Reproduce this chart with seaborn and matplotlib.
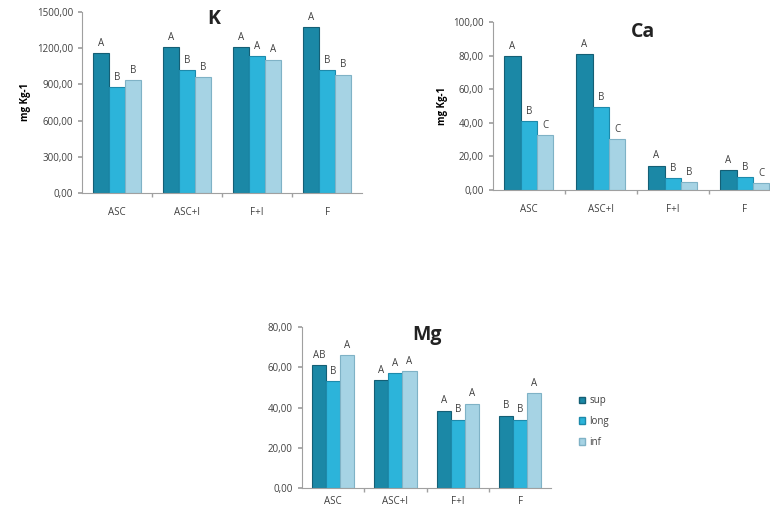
import pandas as pd
import matplotlib.pyplot as plt
import seaborn as sns

sns.set_theme(style="white")
plt.rcParams['font.family'] = ['Open Sans', 'DejaVu Sans']

treatments = ['ASC', 'ASC+I', 'F+I', 'F']
positions = ['sup', 'long', 'inf']

# K values (mg Kg-1), per position
k_sup = [1160, 1210, 1210, 1375]
k_long = [880, 1015, 1130, 1020]
k_inf = [935, 960, 1105, 980]
k_letters = [['A', 'A', 'A', 'A'], ['B', 'B', 'A', 'B'], ['B', 'B', 'A', 'B']]

# Ca values
ca_sup = [79.5, 81.0, 14.5, 12.0]
ca_long = [41.0, 49.5, 7.0, 7.5]
ca_inf = [32.5, 30.5, 4.5, 4.0]
ca_letters = [['A', 'A', 'A', 'A'], ['B', 'B', 'B', 'B'], ['C', 'C', 'B', 'C']]

# Mg values
mg_sup = [61.0, 53.5, 38.5, 36.0]
mg_long = [53.0, 57.0, 34.0, 34.0]
mg_inf = [66.0, 58.0, 42.0, 47.0]
mg_letters = [['AB', 'A', 'A', 'B'], ['B', 'A', 'B', 'B'], ['A', 'A', 'A', 'A']]

colors = ['#1b88a6', '#2cb4da', '#a6d3e4']
edges = ['#145f75', '#1d8aab', '#7fb2c6']
txt = '#404040'


def make_df(sup, long, inf):
    rows = []
    for pos, vals in zip(positions, [sup, long, inf]):
        for t, v in zip(treatments, vals):
            rows.append({'trat': t, 'pos': pos, 'val': v})
    return pd.DataFrame(rows)


def draw(ax, df, letters, ymax, step, title, title_xy, ylabel=True, xpad=10):
    sns.barplot(data=df, x='trat', y='val', hue='pos', order=treatments,
                hue_order=positions, palette=colors, width=0.68,
                saturation=1, ax=ax, legend=False)
    for i, cont in enumerate(ax.containers):
        for bar in cont:
            bar.set_edgecolor(edges[i])
            bar.set_linewidth(0.8)
        ax.bar_label(cont, labels=letters[i], padding=3, fontsize=7, color=txt)
    ax.set_ylim(0, ymax)
    ticks = [step * j for j in range(int(ymax / step) + 1)]
    ax.set_yticks(ticks)
    ax.set_yticklabels([f'{t:.2f}'.replace('.', ',') for t in ticks],
                       fontsize=7, color=txt)
    ax.set_xlim(-0.5, 3.5)
    ax.set_xticks([0, 1, 2, 3])
    ax.set_xticklabels(treatments, fontsize=7, color=txt)
    ax.set_xticks([0.5, 1.5, 2.5], minor=True)
    ax.tick_params(axis='x', which='major', length=0, pad=xpad)
    ax.tick_params(axis='x', which='minor', length=3, color='#a0a0a0',
                   direction='out', bottom=True)
    ax.tick_params(axis='y', length=3, color='#a0a0a0', direction='out', left=True)
    ax.set_xlabel('')
    if ylabel:
        ax.set_ylabel('mg Kg-1', fontsize=7, fontweight='bold', color='black')
    else:
        ax.set_ylabel('')
    for s in ['top', 'right']:
        ax.spines[s].set_visible(False)
    for s in ['left', 'bottom']:
        ax.spines[s].set_color('#a0a0a0')
        ax.spines[s].set_linewidth(0.8)
    ax.text(title_xy[0], title_xy[1], title, transform=ax.transAxes,
            fontsize=14, fontweight='bold', color='#222222', ha='center', va='center')


fig = plt.figure(figsize=(7.7, 5.12), dpi=100)

ax_k = fig.add_axes([0.1065, 0.623, 0.364, 0.354])
draw(ax_k, make_df(k_sup, k_long, k_inf), k_letters, 1500, 300, 'K', (0.47, 0.96))

ax_ca = fig.add_axes([0.640, 0.629, 0.374, 0.328])
draw(ax_ca, make_df(ca_sup, ca_long, ca_inf), ca_letters, 100, 20, 'Ca', (0.52, 0.94))

ax_mg = fig.add_axes([0.392, 0.047, 0.324, 0.314])
draw(ax_mg, make_df(mg_sup, mg_long, mg_inf), mg_letters, 80, 20, 'Mg',
     (0.5, 0.95), ylabel=False, xpad=6)

# legend
handles = [plt.Rectangle((0, 0), 1, 1, facecolor=c, edgecolor=e)
           for c, e in zip(colors, edges)]
fig.legend(handles, positions, loc='upper left', bbox_to_anchor=(0.74, 0.245),
           frameon=False, fontsize=7, labelcolor=txt, handlelength=0.7,
           handleheight=0.7, labelspacing=1.0, handletextpad=0.4)

fig.savefig('out.png', dpi=100)
